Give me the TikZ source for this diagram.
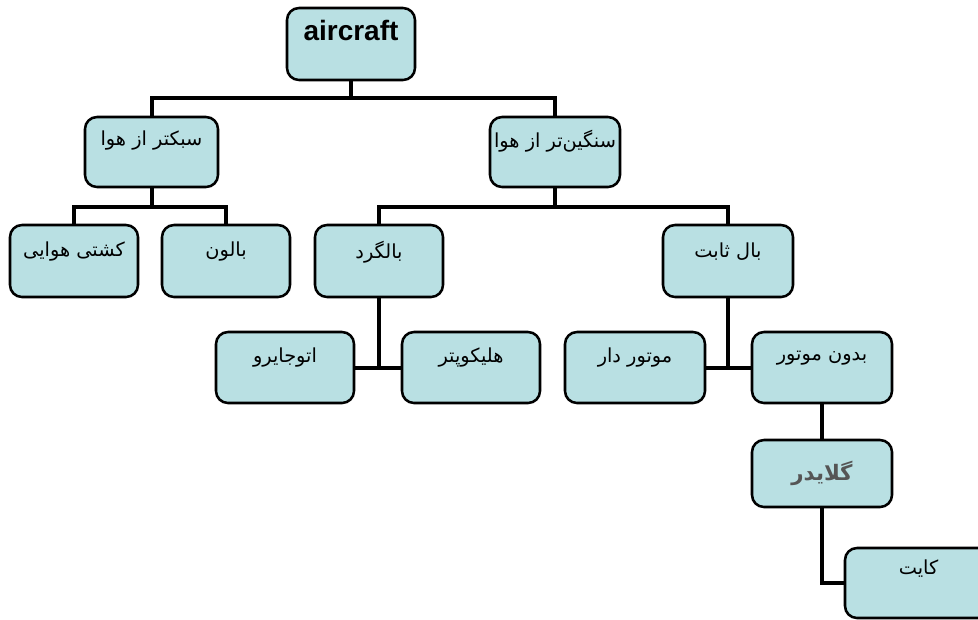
\documentclass[tikz,border=0pt]{standalone}
\usepackage{fontspec}
\setmainfont{Liberation Sans}
\newfontfamily\fa[Script=Arabic]{DejaVu Sans}
\TeXXeTstate=1
\usetikzlibrary{calc}
\definecolor{boxfill}{HTML}{B9E0E3}
\definecolor{gltext}{HTML}{555555}
\tikzset{
  box/.style={draw=black, line width=1.9pt, fill=boxfill, rounded corners=9pt, inner sep=0pt, outer sep=0pt},
  conn/.style={draw=black, line width=3pt},
  lbl/.style={font=\fa\fontsize{14.5}{16}\selectfont, inner sep=0pt},
}
\newcommand\bx[5]{\node[box, minimum width={(#4-#2)*0.75pt}, minimum height={(#5-#3)*0.75pt}] (#1) at ({(#2+#4)/2},{(#3+#5)/2}) {};}
\begin{document}
\begin{tikzpicture}[x=0.75pt, y=-0.75pt]
\useasboundingbox (0,0) rectangle (978,619);
\coordinate (bar1) at (0,98);
\coordinate (bar2) at (0,207);
% boxes
\bx{air}{287}{8}{415}{80}
\bx{sab}{85}{117}{218}{187}
\bx{sang}{490}{117}{620}{187}
\bx{kesh}{10}{225}{138}{297}
\bx{balon}{162}{225}{290}{297}
\bx{balg}{315}{225}{443}{297}
\bx{bsab}{663}{225}{793}{297}
\bx{oto}{216}{332}{354}{403}
\bx{hel}{402}{332}{540}{403}
\bx{mot}{565}{332}{705}{403}
\bx{bed}{752}{332}{892}{403}
\bx{gl}{752}{440}{892}{507}
\bx{kite}{845}{548}{992}{618}
% connectors
\draw[conn] (air.south) -- (air.south |- bar1);
\draw[conn] (sab.north) -- (sab.north |- bar1) -- (sang.north |- bar1) -- (sang.north);
\draw[conn] (sab.south) -- (sab.south |- bar2);
\draw[conn] (kesh.north) -- (kesh.north |- bar2) -- (balon.north |- bar2) -- (balon.north);
\draw[conn] (sang.south) -- (sang.south |- bar2);
\draw[conn] (balg.north) -- (balg.north |- bar2) -- (bsab.north |- bar2) -- (bsab.north);
\draw[conn] (balg.south) -- (balg.south |- oto.east);
\draw[conn] (oto.east) -- (hel.west);
\draw[conn] (bsab.south) -- (bsab.south |- mot.east);
\draw[conn] (mot.east) -- (bed.west);
\draw[conn] (bed.south) -- (gl.north);
\draw[conn] (gl.south) |- (kite.west);
% texts
\node[font=\bfseries\fontsize{21}{24}\selectfont, inner sep=0pt] at ($(air.north)+(0,22)$) {aircraft};
\node[lbl] at ($(sab.north)+(0,24)$) {\beginR سبکتر از هوا\endR};
\node[lbl] at ($(sang.north)+(0,24)$) {\beginR سنگین‌تر از هوا\endR};
\node[lbl] at ($(kesh.north)+(0,27)$) {\beginR کشتی هوایی\endR};
\node[lbl] at ($(balon.north)+(0,27)$) {\beginR بالون\endR};
\node[lbl] at ($(balg.north)+(0,27)$) {\beginR بالگرد\endR};
\node[lbl] at ($(bsab.north)+(0,27)$) {\beginR بال ثابت\endR};
\node[lbl] at ($(oto.north)+(0,26)$) {\beginR اتوجایرو\endR};
\node[lbl] at ($(hel.north)+(0,26)$) {\beginR هلیکوپتر\endR};
\node[lbl] at ($(mot.north)+(0,26)$) {\beginR موتور دار\endR};
\node[lbl] at ($(bed.north)+(0,26)$) {\beginR بدون موتور\endR};
\node[font=\fa\bfseries\fontsize{16}{18}\selectfont, text=gltext, inner sep=0pt] at (gl.center) {\beginR گلایدر\endR};
\node[lbl] at ($(kite.north)+(0,21)$) {\beginR کایت\endR};
\end{tikzpicture}
\end{document}
